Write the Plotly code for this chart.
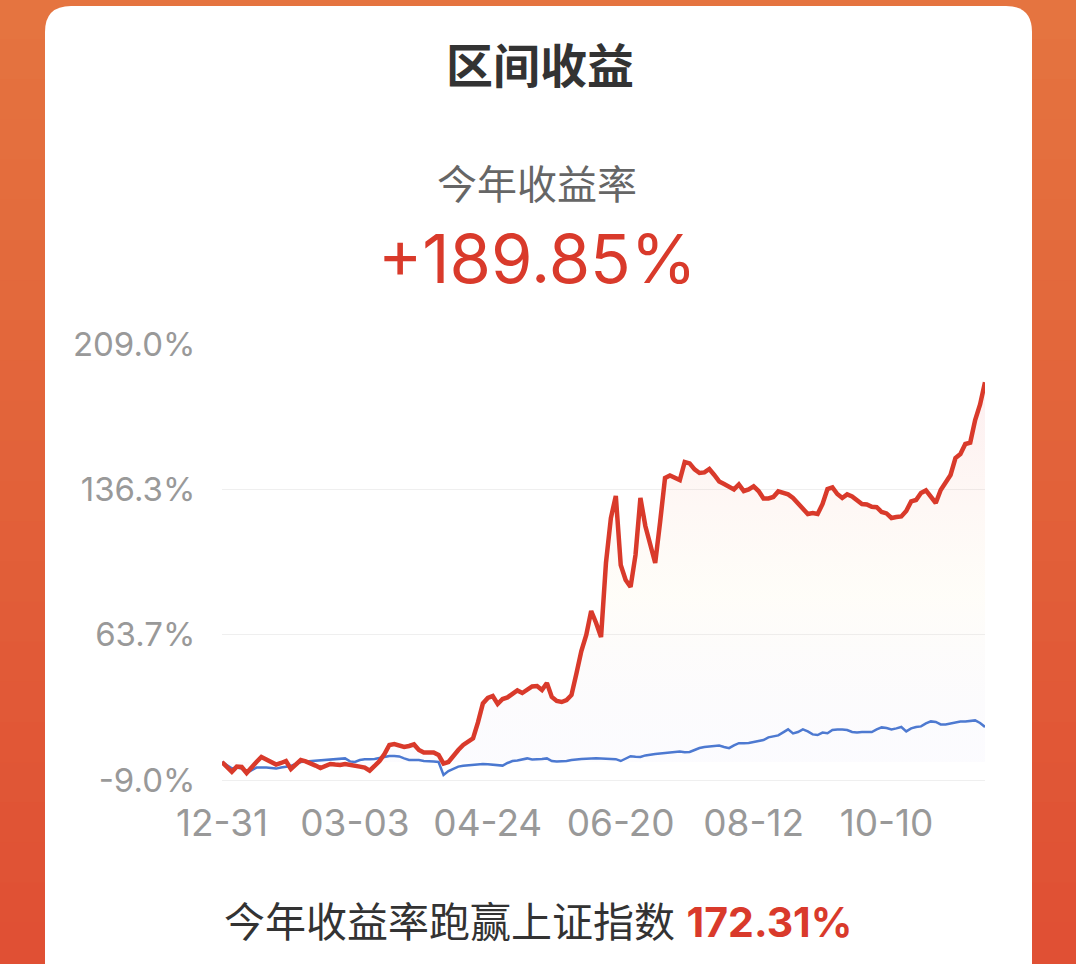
import plotly.graph_objects as go

# trading-day index -> cumulative return (%)
FUND_RETURN = [
    0, -2.5, -4.9, -2.3, -2.5, -5.5, -2.5, 0, 2.5, 1.3,
    0, -1.3, -0.5, 0.5, -3.5, -1, 1, 0.3, -0.5, -1.8,
    -3, -1.8, -1, -1.3, -1.5, -1, -1.3, -2, -2.3, -2.8,
    -4.3, -2, 0.5, 4, 8.5, 9, 8, 7.5, 8, 8.8,
    6, 4.7, 4.7, 4.8, 3.5, -0.8, 0, 3.3, 6, 8.5,
    10, 11.8, 19.8, 29.3, 32, 33, 29, 31.5, 32.3, 34,
    35.8, 34.5, 36.5, 37.8, 38, 36, 39.5, 32.5, 30.5, 30,
    31, 33.5, 44.3, 55.5, 63.5, 75.5, 69.5, 62.5, 99.5, 122,
    133, 98.5, 91, 87.5, 103.5, 132, 118, 108.5, 99.5, 120,
    142, 143.3, 142.3, 141, 150, 149.3, 146.3, 144.5, 144.8, 146.5,
    143.5, 140.3, 139, 137.5, 136.3, 138.8, 135.5, 136.3, 137.8, 135.5,
    131.8, 131.8, 132.5, 135.3, 134.5, 133.8, 132, 129.5, 126.5, 124,
    124.5, 124, 129, 136.5, 137.3, 134, 132, 133.8, 132.8, 130.8,
    129, 128.8, 127.6, 127.4, 125, 124.3, 122, 122.5, 122.8, 125.5,
    130.3, 131, 134.5, 135.8, 132.5, 129.5, 136, 140, 143.5, 152,
    154, 159, 159.7, 171, 178.8, 189.85,
]
INDEX_RETURN = [
    0, -1.5, -3.2, -2.8, -3.3, -5.5, -4, -2.8, -2.8, -2.7,
    -3, -3.3, -2.8, -2.5, -2, -1, 0, 0.3, 0.5, 0.5,
    0.8, 1, 1, 1.3, 1.5, 1.8, 0.3, 0, 1, 1.4,
    1.4, 1.5, 2, 2.5, 3, 3, 2.8, 1.8, 1, 1,
    1, 0.5, 0.2, 0.2, 0, -6.5, -4.5, -3.3, -2.3, -1.9,
    -1.6, -1.5, -1.3, -1, -1.1, -1.3, -1.5, -1.8, -0.5, 0.5,
    0.8, 1.3, 1.8, 1.3, 1.3, 1.5, 1.8, 0.5, 0.2, 0.2,
    0.5, 1, 1.4, 1.5, 1.6, 1.8, 1.9, 1.8, 1.6, 1.5,
    1.4, 0.5, 1.8, 2.9, 2.6, 2.5, 3.3, 3.8, 4, 4.3,
    4.5, 4.8, 5, 5.2, 4.9, 5, 6, 7, 7.5, 7.8,
    8, 8.2, 7.5, 6.9, 8.3, 9.4, 9.4, 9.5, 10, 10.5,
    11, 12.3, 12.7, 13.3, 14.8, 16.3, 14.3, 15, 16.3, 15.3,
    13.8, 13.5, 14.7, 14.4, 16, 16.3, 16.2, 16, 15, 14.8,
    15, 15, 15, 16.3, 17.3, 17, 16.3, 16.8, 17.5, 15.3,
    16.8, 17.5, 17.8, 19.3, 20.3, 20, 18.8, 18.8, 19.3, 20,
    20.2, 20.2, 20.5, 20.8, 19.5, 17.54,
]
TICK_POS = [0, 27, 54, 81, 108, 135]
TICK_TEXT = ["12-31", "03-03", "04-24", "06-20", "08-12", "10-10"]
Y_TICKS = [-9.0, 63.667, 136.333, 209.0]
Y_TEXT = ["-9.0%", "63.7%", "136.3%", "209.0%"]

W, H = 1076, 964
L, R, T, B = 222, 91, 344, 184
PW, PH = W - L - R, H - T - B
RED, BLUE = "#D93A2B", "#4A78D0"
FONT = "Inter, Noto Sans CJK SC, sans-serif"


def fx(px):
    return (px - L) / PW


def fy(py):
    return (H - B - py) / PH


days = list(range(len(FUND_RETURN)))
fig = go.Figure()
fig.add_trace(go.Scatter(
    x=days, y=INDEX_RETURN, mode="lines", line=dict(color=BLUE, width=2.5),
    name="上证指数", hoverinfo="skip"))
fig.add_trace(go.Scatter(
    x=days, y=FUND_RETURN, mode="lines", line=dict(color=RED, width=4.5),
    fill="tozeroy", name="本基金", hoverinfo="skip",
    fillgradient=dict(type="vertical", colorscale=[
        [0, "rgba(150,140,240,0.03)"], [0.45, "rgba(250,225,160,0.07)"],
        [1, "rgba(235,90,100,0.10)"]])))

# orange backdrop, drawn as thin horizontal bands
shapes = []
n_band = 24
for k in range(n_band):
    t = k / (n_band - 1)
    col = f"rgb({int(229 - 5 * t)},{int(116 - 36 * t)},{int(64 - 12 * t)})"
    shapes.append(dict(type="rect", xref="paper", yref="paper", layer="below",
                       x0=fx(0), x1=fx(W), y0=fy(k * H / n_band - 1), y1=fy((k + 1) * H / n_band + 1),
                       fillcolor=col, line_width=0))

# white card with rounded top corners
cx0, cx1, cy0, cy1, rad = 45, 1032, 6, 1000, 26
card = (f"M {fx(cx0)},{fy(cy1)} L {fx(cx0)},{fy(cy0 + rad)} "
        f"Q {fx(cx0)},{fy(cy0)} {fx(cx0 + rad)},{fy(cy0)} "
        f"L {fx(cx1 - rad)},{fy(cy0)} Q {fx(cx1)},{fy(cy0)} {fx(cx1)},{fy(cy0 + rad)} "
        f"L {fx(cx1)},{fy(cy1)} Z")
shapes.append(dict(type="path", path=card, xref="paper", yref="paper", layer="below",
                   fillcolor="white", line_width=0))

texts = [
    ("<b>区间收益</b>", 540, 65, 47, "#333333"),
    ("今年收益率", 537, 185, 40, "#666666"),
    ("+189.85%", 537, 258, 67, RED),
    ("今年收益率跑赢上证指数 <b><span style='color:%s'>172.31%%</span></b>" % RED, 538, 922, 41, "#333333"),
]
annotations = [dict(text=s, x=fx(x), y=fy(y), xref="paper", yref="paper", showarrow=False,
                    xanchor="center", yanchor="middle", font=dict(size=sz, color=c, family=FONT))
               for s, x, y, sz, c in texts]

fig.update_layout(
    width=W, height=H, margin=dict(l=L, r=R, t=T, b=B),
    paper_bgcolor="#E4723F", plot_bgcolor="rgba(0,0,0,0)",
    showlegend=False, shapes=shapes, annotations=annotations,
    font=dict(family=FONT),
)
fig.update_xaxes(range=[0, len(days) - 1], tickvals=TICK_POS, ticktext=TICK_TEXT,
                 showgrid=False, zeroline=False, showline=True, linecolor="#EFEFEF", linewidth=1,
                 ticks="outside", ticklen=11, tickcolor="rgba(0,0,0,0)",
                 tickfont=dict(size=37, color="#999999", family=FONT))
fig.update_yaxes(range=[-9, 209], tickvals=Y_TICKS, ticktext=Y_TEXT,
                 showgrid=True, gridcolor="#EFEFEF", gridwidth=1, zeroline=False, showline=False,
                 ticks="outside", ticklen=19, tickcolor="rgba(0,0,0,0)",
                 tickfont=dict(size=33, color="#999999", family=FONT))

fig.write_html("out.html", config={"displayModeBar": False},
               post_script="document.body.style.margin='0px';")
